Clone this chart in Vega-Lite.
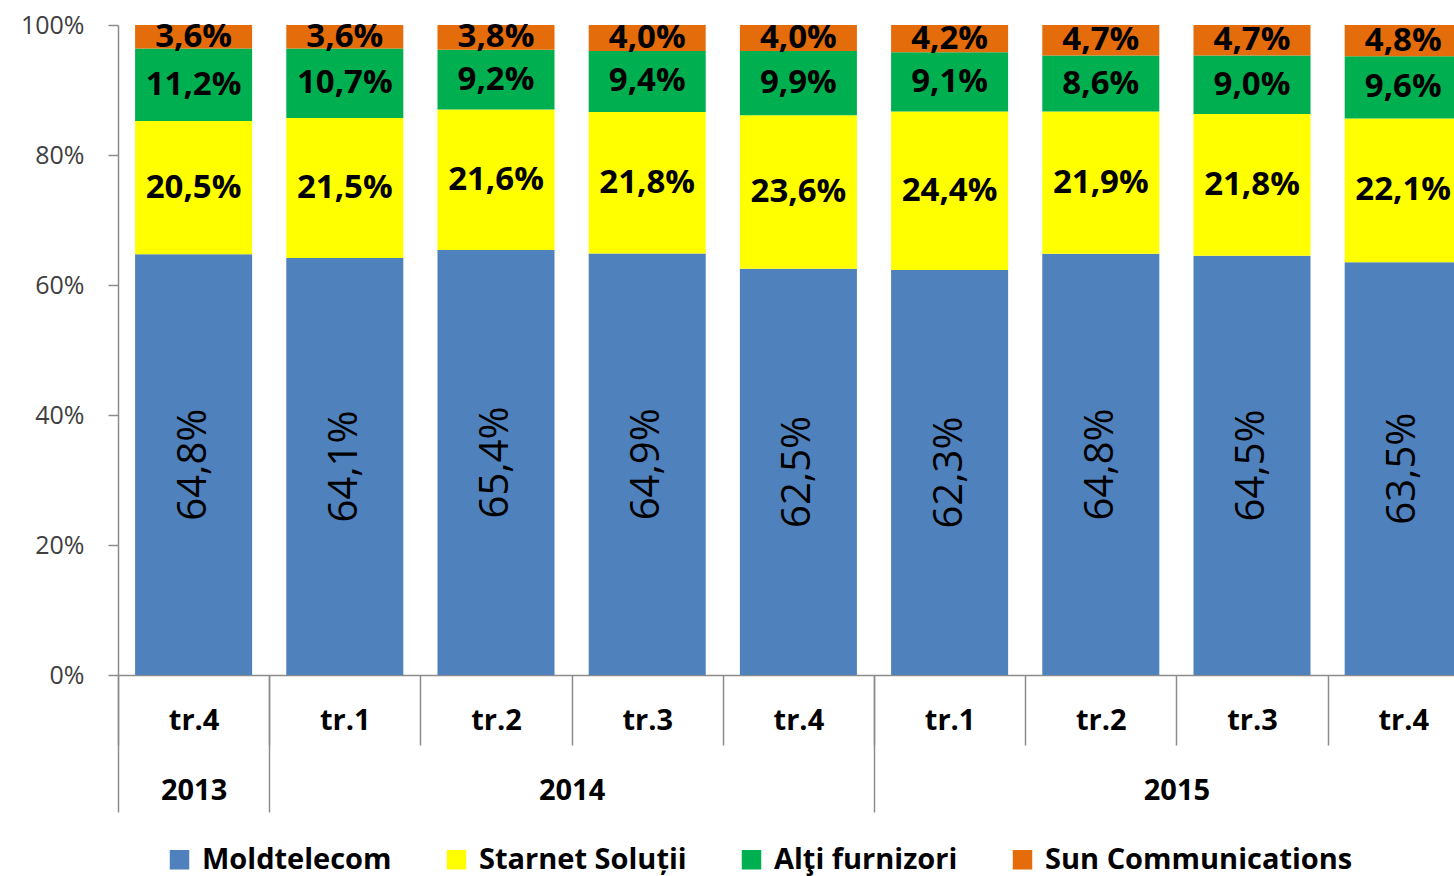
{
  "$schema": "https://vega.github.io/schema/vega-lite/v6.json",
  "width": 1336,
  "height": 650,
  "autosize": {"type": "none"},
  "padding": {"left": 118, "top": 25, "right": 0, "bottom": 201},
  "background": "white",
  "config": {
    "view": {"stroke": null},
    "font": "Open Sans",
    "locale": {"number": {"decimal": ",", "thousands": ".", "grouping": [3], "currency": ["", ""]}}
  },
  "data": {
    "values": [
      {"p": "2013 tr.4", "operator": "Moldtelecom", "rank": 1, "share": 0.648},
      {"p": "2013 tr.4", "operator": "Starnet Soluții", "rank": 2, "share": 0.205},
      {"p": "2013 tr.4", "operator": "Alţi furnizori", "rank": 3, "share": 0.112},
      {"p": "2013 tr.4", "operator": "Sun Communications", "rank": 4, "share": 0.036},
      {"p": "2014 tr.1", "operator": "Moldtelecom", "rank": 1, "share": 0.641},
      {"p": "2014 tr.1", "operator": "Starnet Soluții", "rank": 2, "share": 0.215},
      {"p": "2014 tr.1", "operator": "Alţi furnizori", "rank": 3, "share": 0.107},
      {"p": "2014 tr.1", "operator": "Sun Communications", "rank": 4, "share": 0.036},
      {"p": "2014 tr.2", "operator": "Moldtelecom", "rank": 1, "share": 0.654},
      {"p": "2014 tr.2", "operator": "Starnet Soluții", "rank": 2, "share": 0.216},
      {"p": "2014 tr.2", "operator": "Alţi furnizori", "rank": 3, "share": 0.092},
      {"p": "2014 tr.2", "operator": "Sun Communications", "rank": 4, "share": 0.038},
      {"p": "2014 tr.3", "operator": "Moldtelecom", "rank": 1, "share": 0.649},
      {"p": "2014 tr.3", "operator": "Starnet Soluții", "rank": 2, "share": 0.218},
      {"p": "2014 tr.3", "operator": "Alţi furnizori", "rank": 3, "share": 0.094},
      {"p": "2014 tr.3", "operator": "Sun Communications", "rank": 4, "share": 0.040},
      {"p": "2014 tr.4", "operator": "Moldtelecom", "rank": 1, "share": 0.625},
      {"p": "2014 tr.4", "operator": "Starnet Soluții", "rank": 2, "share": 0.236},
      {"p": "2014 tr.4", "operator": "Alţi furnizori", "rank": 3, "share": 0.099},
      {"p": "2014 tr.4", "operator": "Sun Communications", "rank": 4, "share": 0.040},
      {"p": "2015 tr.1", "operator": "Moldtelecom", "rank": 1, "share": 0.623},
      {"p": "2015 tr.1", "operator": "Starnet Soluții", "rank": 2, "share": 0.244},
      {"p": "2015 tr.1", "operator": "Alţi furnizori", "rank": 3, "share": 0.091},
      {"p": "2015 tr.1", "operator": "Sun Communications", "rank": 4, "share": 0.042},
      {"p": "2015 tr.2", "operator": "Moldtelecom", "rank": 1, "share": 0.648},
      {"p": "2015 tr.2", "operator": "Starnet Soluții", "rank": 2, "share": 0.219},
      {"p": "2015 tr.2", "operator": "Alţi furnizori", "rank": 3, "share": 0.086},
      {"p": "2015 tr.2", "operator": "Sun Communications", "rank": 4, "share": 0.047},
      {"p": "2015 tr.3", "operator": "Moldtelecom", "rank": 1, "share": 0.645},
      {"p": "2015 tr.3", "operator": "Starnet Soluții", "rank": 2, "share": 0.218},
      {"p": "2015 tr.3", "operator": "Alţi furnizori", "rank": 3, "share": 0.090},
      {"p": "2015 tr.3", "operator": "Sun Communications", "rank": 4, "share": 0.047},
      {"p": "2015 tr.4", "operator": "Moldtelecom", "rank": 1, "share": 0.635},
      {"p": "2015 tr.4", "operator": "Starnet Soluții", "rank": 2, "share": 0.221},
      {"p": "2015 tr.4", "operator": "Alţi furnizori", "rank": 3, "share": 0.096},
      {"p": "2015 tr.4", "operator": "Sun Communications", "rank": 4, "share": 0.048}
    ]
  },
  "resolve": {"axis": {"x": "independent"}},
  "layer": [
    {
      "mark": {"type": "bar", "width": {"band": 0.774}},
      "encoding": {
        "x": {
          "field": "p", "type": "nominal", "sort": null,
          "scale": {"range": [0, 1360.8], "paddingInner": 0, "paddingOuter": 0},
          "axis": {
            "title": null, "offset": 0, "orient": "bottom",
            "labelExpr": "split(datum.value, ' ')[1]",
            "tickBand": "extent", "tickSize": 70, "tickColor": "#8c8c8c", "tickWidth": 1.5,
            "domainColor": "#8c8c8c", "domainWidth": 1.5,
            "labelAngle": 0, "labelFont": "Open Sans", "labelFontWeight": "bold", "labelFontSize": 29,
            "labelColor": "#000000", "labelBaseline": "middle", "labelPadding": -25
          }
        },
        "y": {
          "field": "share", "type": "quantitative", "stack": "normalize",
          "scale": {"domain": [0, 1]},
          "axis": {
            "title": null, "format": ".0%", "values": [0, 0.2, 0.4, 0.6, 0.8, 1], "grid": false,
            "tickSize": 10, "tickColor": "#8c8c8c", "tickWidth": 1.5, "domainColor": "#8c8c8c", "domainWidth": 1.5,
            "labelFont": "Open Sans", "labelFontSize": 25, "labelColor": "#404040", "labelPadding": 24
          }
        },
        "color": {
          "field": "operator", "type": "nominal",
          "scale": {
            "domain": ["Moldtelecom", "Starnet Soluții", "Alţi furnizori", "Sun Communications"],
            "range": ["#4F81BD", "#FFFF00", "#00B050", "#E46C0A"]
          },
          "legend": {
            "orient": "none", "legendX": 47, "legendY": 820, "direction": "horizontal", "title": null,
            "padding": 0, "symbolType": "square", "symbolSize": 380, "symbolStrokeWidth": 0, "symbolOpacity": 1,
            "labelFont": "Open Sans", "labelFontWeight": "bold", "labelFontSize": 29, "labelColor": "#000000",
            "labelLimit": 600, "columnPadding": 50, "labelOffset": 8
          }
        },
        "order": {"field": "rank"}
      }
    },
    {
      "mark": {"type": "text", "font": "Open Sans", "fontSize": 40, "fontWeight": "normal", "angle": 270, "color": "#000000", "baseline": "middle", "align": "center"},
      "encoding": {
        "x": {
          "field": "p", "type": "nominal", "sort": null,
          "axis": {
            "title": null, "offset": 0, "orient": "bottom", "domain": false,
            "tickBand": "extent", "tickSize": 137, "tickColor": "#8c8c8c", "tickWidth": 1.5,
            "tickOpacity": {"condition": {"test": "datum.extra || indexof(['2013 tr.4', '2014 tr.4'], datum.value) >= 0", "value": 1}, "value": 0},
            "labelExpr": "datum.value == '2013 tr.4' ? '2013' : datum.value == '2014 tr.2' ? '2014' : datum.value == '2015 tr.2' ? '2015' : ''",
            "labelOffset": {"condition": {"test": "datum.value == '2013 tr.4'", "value": 0}, "value": 75.6},
            "labelAngle": 0, "labelFont": "Open Sans", "labelFontWeight": "bold", "labelFontSize": 29,
            "labelColor": "#000000", "labelBaseline": "middle", "labelPadding": -22
          }
        },
        "y": {"field": "share", "type": "quantitative", "stack": "normalize", "bandPosition": 0.5},
        "detail": {"field": "operator"},
        "order": {"field": "rank"},
        "text": {"field": "share", "type": "quantitative", "format": ".1%"},
        "opacity": {"condition": {"test": "datum.rank == 1", "value": 1}, "value": 0}
      }
    },
    {
      "mark": {"type": "text", "font": "Open Sans", "fontSize": 33, "fontWeight": "bold", "color": "#000000", "baseline": "middle", "align": "center"},
      "encoding": {
        "x": {"field": "p", "type": "nominal", "sort": null, "axis": null},
        "y": {"field": "share", "type": "quantitative", "stack": "normalize", "bandPosition": 0.5},
        "detail": {"field": "operator"},
        "order": {"field": "rank"},
        "text": {"field": "share", "type": "quantitative", "format": ".1%"},
        "opacity": {"condition": {"test": "datum.rank != 1", "value": 1}, "value": 0}
      }
    }
  ]
}
